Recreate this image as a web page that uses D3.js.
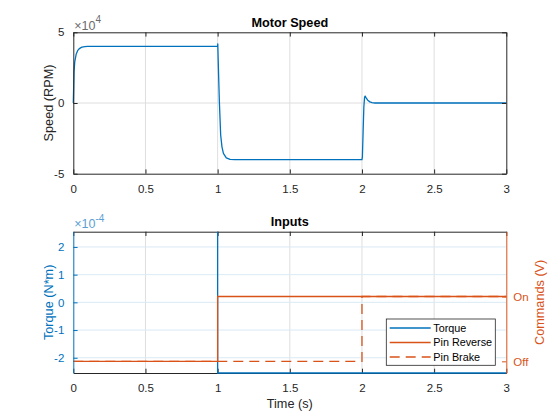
<!DOCTYPE html>
<html><head><meta charset="utf-8">
<script src="https://cdn.jsdelivr.net/npm/d3@7"></script>
<style>body{margin:0;background:#fff}svg{display:block;font-family:"Liberation Sans",Arial,sans-serif}</style>
</head><body><svg id="c" width="560" height="420"></svg>
<script>
// ---- data ----
const speedT = [0, 0.005, 0.01, 0.02, 0.03, 0.04, 0.05, 0.06, 0.08, 0.1, 1.0, 1.001, 1.004, 1.008, 1.012, 1.021, 1.03, 1.04, 1.06, 1.086, 1.12, 2.0, 2.003, 2.008, 2.013, 2.018, 2.022, 2.03, 2.04, 2.055, 2.07, 2.09, 3.0];
const speedV = [0, 22000, 29000, 34500, 37000, 38300, 39000, 39500, 39900, 40000, 40000, 41800, 30000, 15000, 1000, -22600, -31000, -35600, -38800, -39900, -40000, -40000, -38000, -20000, -3000, 4000, 4900, 3500, 2000, 800, 300, 0, 0];
const torqueT = [1, 1, 3];
const torqueV = [2.55e-4, -2.55e-4, -2.55e-4];
const reverseT = [0, 1, 1, 3];
const reverseV = [0, 0, 1, 1];
const brakeT = [0, 2, 2, 3];
const brakeV = [0, 0, 1, 1];
const xTicks = [0, 0.5, 1, 1.5, 2, 2.5, 3];
const speedTicks = [-50000, 0, 50000];
const torqueTicks = [-2e-4, -1e-4, 0, 1e-4, 2e-4];
const cmdTicks = [0, 1];
const cmdLabels = ["Off", "On"];
const legendNames = ["Torque", "Pin Reverse", "Pin Brake"];

const BLUE = "#0072BD", ORANGE = "#D95319", AX = "#262626";
const GRID = "#dedede", GRIDB = "#d9eaf5";
const svg = d3.select("#c");
const L = 73.3, R = 506.3;
const top1 = 32.3, bot1 = 173.7, top2 = 231.7, bot2 = 373;
const TICK = 4.3, FS = 11.5, FL = 12.7;

const x1 = d3.scaleLinear().domain([0, 3]).range([L, R]);
const ySp = d3.scaleLinear().domain([-50000, 50000]).range([bot1, top1]);
const yTq = d3.scaleLinear().domain([-2.55e-4, 2.55e-4]).range([bot2, top2]);
const yCm = d3.scaleLinear().domain([-0.18, 2.0]).range([bot2, top2]);

function fmt(v){ return String(+(+v).toFixed(6)); }

// ===== Top plot =====
const g1 = svg.append("g");
g1.selectAll(".gx").data(xTicks.slice(1, -1)).join("line")
  .attr("x1", d => x1(d)).attr("x2", d => x1(d)).attr("y1", top1).attr("y2", bot1)
  .attr("stroke", GRID).attr("stroke-width", 1);
g1.append("line").attr("x1", L).attr("x2", R).attr("y1", ySp(0)).attr("y2", ySp(0))
  .attr("stroke", GRID).attr("stroke-width", 1);
const lineSp = d3.line().x((d, i) => x1(speedT[i])).y(d => ySp(d));
g1.append("path").datum(speedV).attr("d", lineSp).attr("fill", "none")
  .attr("stroke", BLUE).attr("stroke-width", 1.3).attr("stroke-linejoin", "round");
const ax1b = g1.append("g").attr("transform", `translate(0,${bot1})`)
  .call(d3.axisBottom(x1).tickValues(xTicks).tickSizeInner(-TICK).tickSizeOuter(0).tickPadding(11).tickFormat(fmt));
const ax1t = g1.append("g").attr("transform", `translate(0,${top1})`)
  .call(d3.axisTop(x1).tickValues(xTicks).tickSizeInner(-TICK).tickSizeOuter(0).tickFormat(""));
const ax1l = g1.append("g").attr("transform", `translate(${L},0)`)
  .call(d3.axisLeft(ySp).tickValues(speedTicks).tickSizeInner(-TICK).tickSizeOuter(0).tickPadding(9).tickFormat(d => fmt(d / 1e4)));
const ax1r = g1.append("g").attr("transform", `translate(${R},0)`)
  .call(d3.axisRight(ySp).tickValues(speedTicks).tickSizeInner(-TICK).tickSizeOuter(0).tickFormat(""));
[ax1b, ax1t, ax1l, ax1r].forEach(a => {
  a.select(".domain").attr("stroke", AX);
  a.selectAll(".tick line").attr("stroke", AX);
  a.selectAll("text").attr("fill", AX).attr("font-size", FS).attr("font-family", "Liberation Sans, Arial, sans-serif");
});
const e1 = g1.append("text").attr("x", L + 1).attr("y", 29.5).attr("fill", "#6b6b6b").attr("font-size", 12.5);
e1.append("tspan").text("×10");
e1.append("tspan").attr("dy", -6.5).attr("font-size", 10).text("4");
g1.append("text").attr("x", (L + R) / 2).attr("y", 27.3).attr("text-anchor", "middle")
  .attr("font-weight", "bold").attr("font-size", FL).attr("fill", "#000").text("Motor Speed");
g1.append("text").attr("transform", `translate(49,${(top1 + bot1) / 2}) rotate(-90)`)
  .attr("dy", "0.35em").attr("text-anchor", "middle").attr("font-size", FL).attr("fill", AX).text("Speed (RPM)");

// ===== Bottom plot =====
const g2 = svg.append("g");
g2.selectAll(".gx").data(xTicks.slice(1, -1)).join("line")
  .attr("x1", d => x1(d)).attr("x2", d => x1(d)).attr("y1", top2).attr("y2", bot2)
  .attr("stroke", GRID).attr("stroke-width", 1);
g2.selectAll(".gy").data(torqueTicks).join("line")
  .attr("x1", L).attr("x2", R).attr("y1", d => yTq(d)).attr("y2", d => yTq(d))
  .attr("stroke", GRIDB).attr("stroke-width", 1);

const ax2b = g2.append("g").attr("transform", `translate(0,${bot2})`)
  .call(d3.axisBottom(x1).tickValues(xTicks).tickSizeInner(-TICK).tickSizeOuter(0).tickPadding(11).tickFormat(fmt));
const ax2t = g2.append("g").attr("transform", `translate(0,${top2})`)
  .call(d3.axisTop(x1).tickValues(xTicks).tickSizeInner(-TICK).tickSizeOuter(0).tickFormat(""));
[ax2b, ax2t].forEach(a => {
  a.select(".domain").attr("stroke", AX);
  a.selectAll(".tick line").attr("stroke", AX);
  a.selectAll("text").attr("fill", AX).attr("font-size", FS).attr("font-family", "Liberation Sans, Arial, sans-serif");
});

const lineTq = d3.line().x((d, i) => x1(torqueT[i])).y(d => yTq(d));
g2.append("path").datum(torqueV).attr("d", lineTq).attr("fill", "none")
  .attr("stroke", BLUE).attr("stroke-width", 1.3);
const lineRv = d3.line().x((d, i) => x1(reverseT[i])).y(d => yCm(d));
g2.append("path").datum(reverseV).attr("d", lineRv).attr("fill", "none")
  .attr("stroke", ORANGE).attr("stroke-width", 1.3);
const lineBr = d3.line().x((d, i) => x1(brakeT[i])).y(d => yCm(d));
g2.append("path").datum(brakeV).attr("d", lineBr).attr("fill", "none")
  .attr("stroke", ORANGE).attr("stroke-width", 1.3).attr("stroke-dasharray", "10,6");

const ax2l = g2.append("g").attr("transform", `translate(${L},0)`)
  .call(d3.axisLeft(yTq).tickValues(torqueTicks).tickSizeInner(-TICK).tickSizeOuter(0).tickPadding(9).tickFormat(d => fmt(d / 1e-4)));
ax2l.select(".domain").attr("stroke", BLUE);
ax2l.selectAll(".tick line").attr("stroke", BLUE);
ax2l.selectAll("text").attr("fill", BLUE).attr("font-size", FS).attr("font-family", "Liberation Sans, Arial, sans-serif");
const ax2r = g2.append("g").attr("transform", `translate(${R},0)`)
  .call(d3.axisRight(yCm).tickValues(cmdTicks).tickSizeInner(-TICK).tickSizeOuter(0).tickPadding(7).tickFormat((d, i) => cmdLabels[i]));
ax2r.select(".domain").attr("stroke", ORANGE);
ax2r.selectAll(".tick line").attr("stroke", ORANGE);
ax2r.selectAll("text").attr("fill", ORANGE).attr("font-size", FS).attr("font-family", "Liberation Sans, Arial, sans-serif");

const e2 = g2.append("text").attr("x", L + 1).attr("y", 228).attr("fill", "#5b9fd4").attr("font-size", 12.5);
e2.append("tspan").text("×10");
e2.append("tspan").attr("dy", -6.5).attr("font-size", 10).text("-4");
g2.append("text").attr("x", (L + R) / 2).attr("y", 226.3).attr("text-anchor", "middle")
  .attr("font-weight", "bold").attr("font-size", FL).attr("fill", "#000").text("Inputs");
g2.append("text").attr("transform", `translate(49,${(top2 + bot2) / 2}) rotate(-90)`)
  .attr("dy", "0.35em").attr("text-anchor", "middle").attr("font-size", FL).attr("fill", BLUE).text("Torque (N*m)");
g2.append("text").attr("transform", `translate(540,${(top2 + bot2) / 2}) rotate(-90)`)
  .attr("dy", "0.35em").attr("text-anchor", "middle").attr("font-size", FL).attr("fill", ORANGE).text("Commands (V)");
g2.append("text").attr("x", (L + R) / 2).attr("y", 404).attr("dy", "0.35em").attr("text-anchor", "middle")
  .attr("font-size", FL).attr("fill", AX).text("Time (s)");

// legend
const lg = g2.append("g");
lg.append("rect").attr("x", 386.3).attr("y", 319).attr("width", 109).attr("height", 46.3)
  .attr("fill", "#fff").attr("stroke", AX).attr("stroke-width", 0.8);
const lgColors = [BLUE, ORANGE, ORANGE], lgDash = [null, null, "10,6"];
legendNames.forEach((n, i) => {
  const yy = 328 + i * 14.5;
  lg.append("line").attr("x1", 389.7).attr("x2", 430.7).attr("y1", yy).attr("y2", yy)
    .attr("stroke", lgColors[i]).attr("stroke-width", 1.3).attr("stroke-dasharray", lgDash[i]);
  lg.append("text").attr("x", 433.3).attr("y", yy).attr("dy", "0.35em").attr("font-size", 10.8)
    .attr("fill", "#000").text(n);
});
</script></body></html>
